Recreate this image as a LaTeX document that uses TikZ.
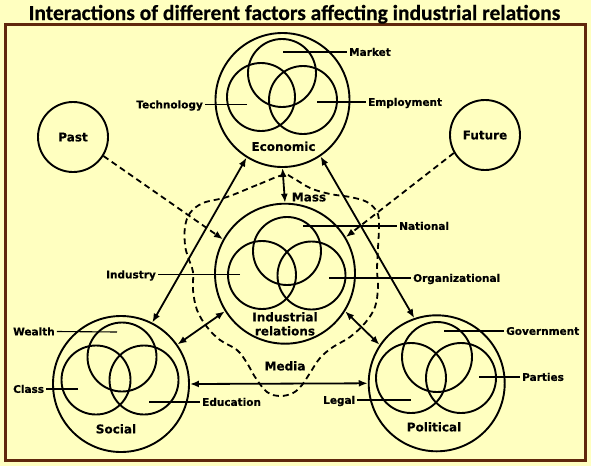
\documentclass[tikz,border=0pt]{standalone}
\usepackage{fontspec}
\setmainfont{DejaVu Sans}[BoldFeatures={FakeBold=0.6}]
\newfontfamily\titlefont{Carlito}[BoldFeatures={FakeBold=0.5}]
\usetikzlibrary{arrows.meta}
\definecolor{bgc}{RGB}{255,255,192}
\definecolor{framec}{RGB}{96,40,12}
\begin{document}
\begin{tikzpicture}[x=1pt,y=-1pt,
  ring/.style={circle,draw,line width=1.9pt,inner sep=0pt,minimum size=#1},
  lbl/.style={font=\bfseries\fontsize{10.5}{12}\selectfont,inner xsep=2pt,inner ysep=0pt,text height=7.7pt,text depth=0pt},
  big/.style={font=\bfseries\fontsize{12}{14}\selectfont,inner sep=0pt,text height=8.7pt,text depth=0pt},
  tick/.style={line width=1.1pt},
  link/.style={line width=1.8pt,{Latex[length=9pt,width=7pt]}-{Latex[length=9pt,width=7pt]}},
  dlink/.style={line width=1.8pt,dash pattern=on 6pt off 4pt,-{Latex[length=9pt,width=7pt]}},
  blob/.style={line width=1.8pt,dash pattern=on 6pt off 4pt}
]
\fill[bgc] (0,0) rectangle (591,466);
\useasboundingbox (0,0) rectangle (591,466);
\draw[framec,line width=3pt] (5,24) rectangle (585,460);
\node[font=\titlefont\bfseries\fontsize{21.5}{24}\selectfont,anchor=base,inner sep=0pt] (title) at (294.5,20) {Interactions of different factors affecting industrial relations};

% Economic
\node[ring=134pt] (eco) at (282.5,100) {};
\node[ring=68pt] (ecoA) at (282,73) {};
\node[ring=68pt] (ecoB) at (261,97) {};
\node[ring=68pt] (ecoC) at (303,100) {};
\node[big] (ecoL) at (283.5,146.5) {Economic};

% Industrial relations
\node[ring=140pt] (ir) at (285,273.7) {};
\node[ring=68pt] (irA) at (287,251) {};
\node[ring=68pt] (irB) at (262,275) {};
\node[ring=68pt] (irC) at (311.5,275.5) {};
\node[big] (irL1) at (285,317) {Industrial};
\node[big] (irL2) at (285,331) {relations};

% Social
\node[ring=136pt] (soc) at (121,384) {};
\node[ring=69pt] (socA) at (122,357) {};
\node[ring=69pt] (socB) at (96,380) {};
\node[ring=69pt] (socC) at (144,380) {};
\node[big] (socL) at (116,429) {Social};

% Political
\node[ring=136pt] (pol) at (436.7,383.3) {};
\node[ring=70pt] (polA) at (437,357) {};
\node[ring=70pt] (polB) at (411,378) {};
\node[ring=70pt] (polC) at (461,378) {};
\node[big] (polL) at (434,427) {Political};

% Past / Future
\node[ring=70pt,big] (past) at (73,137) {Past};
\node[ring=70pt,big] (fut) at (485,135) {Future};

% Mass media boundary
\draw[blob] plot[smooth cycle,tension=0.6] coordinates {
(283,175) (257,185) (227,197) (203,203) (190,213) (185,227) (185,245) (188,257) (193,272) (193,290) (197,310) (207,327) (220,340) (237,350) (247,363) (255,377) (267,392) (280,396) (293,393) (302,385) (310,373) (320,358) (333,347) (350,337) (365,323) (375,307) (378,287) (377,270) (378,248) (379,225) (377,212) (367,202) (350,197) (330,194) (310,188) (293,178)};
\node[big] (mass) at (309,197) {Mass};
\node[big] (media) at (285,366) {Media};

% labels
\node[lbl,anchor=west] (market) at (347,52) {Market};
\coordinate (mk) at (283,52);
\draw[tick] (mk) -- (market.west);
\node[lbl,anchor=east] (tech) at (205,104.5) {Technology};
\coordinate (tc) at (247,104.5);
\draw[tick] (tc) -- (tech.east);
\node[lbl,anchor=west] (emp) at (366,102) {Employment};
\coordinate (em) at (317,102);
\draw[tick] (em) -- (emp.west);

\node[lbl,anchor=west] (nat) at (397,226) {National};
\coordinate (na) at (303,226);
\draw[tick] (na) -- (nat.west);
\node[lbl,anchor=east] (indu) at (158,274.5) {Industry};
\coordinate (in) at (240,274.5);
\draw[tick] (in) -- (indu.east);
\node[lbl,anchor=west] (org) at (411,278) {Organizational};
\coordinate (or) at (329,278);
\draw[tick] (or) -- (org.west);

\node[lbl,anchor=west] (wealth) at (11,331.5) {Wealth};
\coordinate (we) at (117,332);
\draw[tick] (we) -- (wealth.east);
\node[lbl,anchor=west] (class) at (11,389) {Class};
\coordinate (cl) at (78,389);
\draw[tick] (cl) -- (class.east);
\node[lbl,anchor=west] (edu) at (200,402) {Education};
\coordinate (ed) at (149,402);
\draw[tick] (ed) -- (edu.west);

\node[lbl,anchor=west] (gov) at (504,331) {Government};
\coordinate (go) at (444,331);
\draw[tick] (go) -- (gov.west);
\node[lbl,anchor=west] (par) at (520,377) {Parties};
\coordinate (pa) at (479,377);
\draw[tick] (pa) -- (par.west);
\node[lbl,anchor=west] (legal) at (321,400) {Legal};
\coordinate (le) at (411,400);
\draw[tick] (le) -- (legal.east);

% connectors
\draw[link] (eco.238) -- (soc.63);
\draw[link] (eco.304) -- (pol.109);
\draw[link] (eco.south) -- (ir.north);
\draw[link] (soc.east) -- (pol.west);
\draw[link] (ir.212) -- (soc.35);
\draw[link] (ir.328) -- (pol.146);
\draw[dlink] (past.-32) -- (ir.151);
\draw[dlink] (fut.210) -- (ir.31);
\end{tikzpicture}
\end{document}
